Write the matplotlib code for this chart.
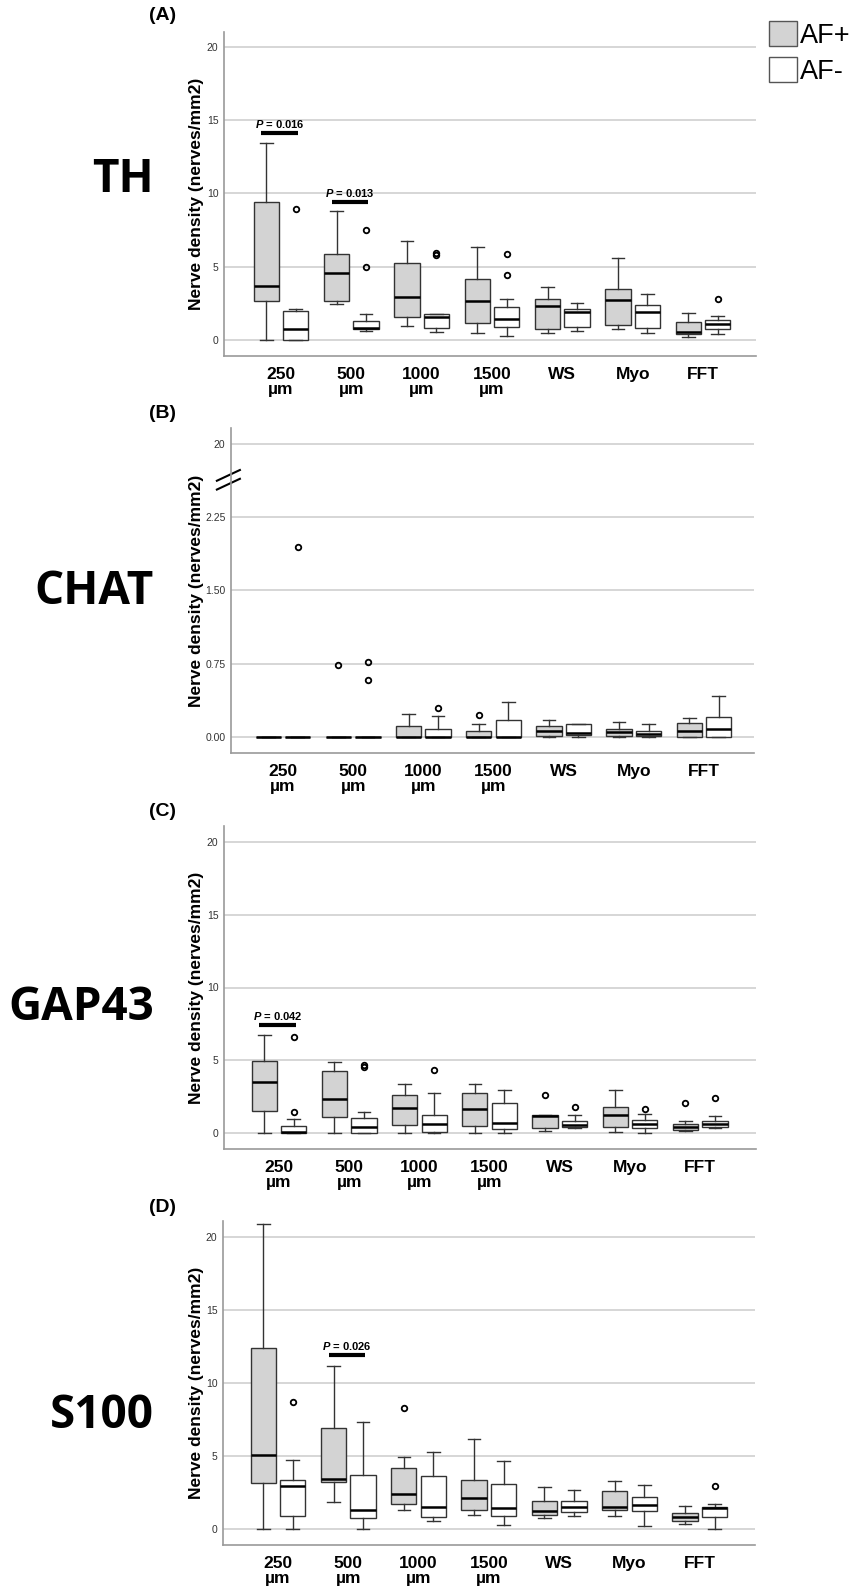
import matplotlib
matplotlib.use('Agg')
import matplotlib.pyplot as plt
from matplotlib.patches import Patch

plt.rcParams['font.family'] = 'Liberation Sans'
plt.rcParams['mathtext.fontset'] = 'custom'
plt.rcParams['mathtext.it'] = 'Liberation Sans:italic:bold'
plt.rcParams['mathtext.rm'] = 'Liberation Sans:bold'

W, H = 867, 1591

sites = ['250\nµm', '500\nµm', '1000\nµm', '1500\nµm', 'WS', 'Myo', 'FFT']
groups = ['AF+', 'AF-']

# box stats per site: whisker low, q1, median, q3, whisker high
th_afp = [[0, 2.68, 3.68, 9.41, 13.45], [2.43, 2.68, 4.59, 5.86, 8.8],
          [0.95, 1.57, 2.93, 5.23, 6.75], [0.5, 1.14, 2.66, 4.14, 6.36],
          [0.45, 0.73, 2.32, 2.80, 3.64], [0.73, 1.0, 2.73, 3.5, 5.61],
          [0.18, 0.41, 0.57, 1.25, 1.86]]
th_afp_out = [[], [], [], [], [], [], []]
th_afn = [[0, 0, 0.73, 1.95, 2.09], [0.61, 0.75, 0.80, 1.32, 1.75],
          [0.55, 0.84, 1.55, 1.75, 1.78], [0.27, 0.86, 1.41, 2.27, 2.77],
          [0.64, 0.86, 1.93, 2.14, 2.55], [0.45, 0.82, 1.93, 2.39, 3.11],
          [0.39, 0.77, 1.07, 1.34, 1.64]]
th_afn_out = [[8.93], [7.5, 5.0], [5.8, 5.95], [5.86, 4.41], [], [], [2.77]]

chat_afp = [[0, 0, 0, 0, 0], [0, 0, 0, 0, 0], [0, 0, 0, 0.116, 0.24],
            [0, 0, 0.005, 0.065, 0.133], [0, 0.014, 0.06, 0.116, 0.177],
            [0, 0.014, 0.05, 0.08, 0.153], [0, 0, 0.065, 0.146, 0.19]]
chat_afp_out = [[], [0.74], [], [0.23], [], [], []]
chat_afn = [[0, 0, 0, 0, 0], [0, 0, 0, 0, 0], [0, 0, 0.005, 0.08, 0.21],
            [0, 0, 0.005, 0.174, 0.355], [0.005, 0.017, 0.044, 0.13, 0.133],
            [0, 0.007, 0.027, 0.06, 0.133], [0, 0, 0.078, 0.208, 0.416]]
chat_afn_out = [[1.94], [0.77, 0.58], [0.30], [], [], [], []]

gap_afp = [[0, 1.54, 3.51, 4.93, 6.72], [0, 1.08, 2.36, 4.24, 4.86],
           [0, 0.57, 1.70, 2.61, 3.35], [0, 0.46, 1.67, 2.75, 3.37],
           [0.11, 0.34, 1.15, 1.22, 1.26], [0.05, 0.41, 1.24, 1.81, 2.98],
           [0.11, 0.23, 0.41, 0.64, 0.80]]
gap_afp_out = [[], [], [], [], [2.59], [], [2.06]]
gap_afn = [[0, 0, 0.05, 0.46, 0.96], [0, 0, 0.41, 1.03, 1.42],
           [0, 0.05, 0.6, 1.22, 2.75], [0, 0.28, 0.69, 2.06, 2.98],
           [0.32, 0.41, 0.57, 0.80, 1.26], [0, 0.34, 0.64, 0.92, 1.31],
           [0.37, 0.41, 0.64, 0.80, 1.19]]
gap_afn_out = [[1.44, 6.63], [4.54, 4.66], [4.31], [], [1.81], [1.67], [2.41]]

s100_afp = [[0, 3.18, 5.07, 12.39, 20.9], [1.82, 3.23, 3.41, 6.95, 11.16],
            [1.27, 1.73, 2.41, 4.16, 4.91], [0.98, 1.30, 2.14, 3.39, 6.16],
            [0.75, 0.93, 1.2, 1.95, 2.89], [0.91, 1.27, 1.48, 2.59, 3.30],
            [0.36, 0.52, 0.80, 1.11, 1.59]]
s100_afp_out = [[], [], [8.32], [], [], [], []]
s100_afn = [[0, 0.91, 2.95, 3.36, 4.75], [0, 0.77, 1.30, 3.73, 7.32],
            [0.55, 0.82, 1.48, 3.64, 5.27], [0.25, 0.89, 1.43, 3.07, 4.66],
            [0.89, 1.18, 1.48, 1.91, 2.64], [0.23, 1.2, 1.61, 2.16, 2.98],
            [0, 0.82, 1.43, 1.5, 1.73]]
s100_afn_out = [[8.68], [], [], [], [], [], [2.95]]

# significance bars: (site index, height, p value)
th_sig = [(0, 14.1, '0.016'), (1, 9.4, '0.013')]
gap_sig = [(0, 7.41, '0.042')]
s100_sig = [(1, 11.9, '0.026')]

y_ticks = [0, 5, 10, 15, 20]
chat_ticks = [0, 0.75, 1.5, 2.25, 3.0]
chat_ticklabels = ['0.00', '0.75', '1.50', '2.25', '20']

panels = [
    dict(name='TH', letter='(A)', afp=th_afp, afp_out=th_afp_out, afn=th_afn, afn_out=th_afn_out,
         sig=th_sig, box=(224, 32, 756, 356), x0=281, dx=70.33, y0=340, dy=14.67,
         ticks=y_ticks, ticklabels=[str(t) for t in y_ticks], label_y=180, letter_y=15),
    dict(name='CHAT', letter='(B)', afp=chat_afp, afp_out=chat_afp_out, afn=chat_afn, afn_out=chat_afn_out,
         sig=[], box=(231, 428, 754, 753), x0=283, dx=70.17, y0=737, dy=97.8,
         ticks=chat_ticks, ticklabels=chat_ticklabels, label_y=592, letter_y=413),
    dict(name='GAP43', letter='(C)', afp=gap_afp, afp_out=gap_afp_out, afn=gap_afn, afn_out=gap_afn_out,
         sig=gap_sig, box=(224, 826, 756, 1149), x0=279, dx=70.2, y0=1133, dy=14.55,
         ticks=y_ticks, ticklabels=[str(t) for t in y_ticks], label_y=1007, letter_y=812),
    dict(name='S100', letter='(D)', afp=s100_afp, afp_out=s100_afp_out, afn=s100_afn, afn_out=s100_afn_out,
         sig=s100_sig, box=(223, 1221, 755, 1545), x0=278, dx=70.3, y0=1529, dy=14.6,
         ticks=y_ticks, ticklabels=[str(t) for t in y_ticks], label_y=1415, letter_y=1208),
]


def make_stats(rows, outs):
    stats = []
    for r, o in zip(rows, outs):
        stats.append(dict(whislo=r[0], q1=r[1], med=r[2], q3=r[3], whishi=r[4], fliers=o))
    return stats


fig = plt.figure(figsize=(W / 100, H / 100), dpi=100)

for p in panels:
    l, t, r, b = p['box']
    ax = fig.add_axes([l / W, 1 - b / H, (r - l) / W, (b - t) / H])
    ax.set_xlim((l - p['x0']) / p['dx'], (r - p['x0']) / p['dx'])
    ax.set_ylim((p['y0'] - b) / p['dy'], (p['y0'] - t) / p['dy'])

    n = len(sites)
    for rows, outs, off, fc in [(p['afp'], p['afp_out'], -0.21, '#d3d3d3'),
                                (p['afn'], p['afn_out'], 0.21, 'white')]:
        ax.bxp(make_stats(rows, outs), positions=[i + off for i in range(n)], widths=0.36,
               patch_artist=True, manage_ticks=False,
               boxprops=dict(facecolor=fc, edgecolor='#333333', linewidth=1.0),
               medianprops=dict(color='black', linewidth=1.8),
               whiskerprops=dict(color='#333333', linewidth=1.0),
               capprops=dict(color='#333333', linewidth=1.0),
               flierprops=dict(marker='o', markerfacecolor='none', markeredgecolor='black',
                               markersize=4, markeredgewidth=1.3))

    for i, h, pv in p['sig']:
        ax.plot([i - 0.28, i + 0.24], [h, h], color='black', lw=3, solid_capstyle='butt')
        ax.annotate(r'$\it{P}$ = ' + pv, (i - 0.02, h), xytext=(0, 2.5), textcoords='offset points',
                    ha='center', va='bottom', fontsize=8, fontweight='bold')

    ax.set_xticks(range(n))
    ax.set_xticklabels(sites, fontsize=12.5, fontweight='bold', linespacing=0.95)
    ax.set_yticks(p['ticks'])
    ax.set_yticklabels(p['ticklabels'])
    ax.tick_params(axis='x', length=0, pad=8)
    ax.tick_params(axis='y', length=0, pad=4, labelsize=7.5, labelcolor='#333333')
    ax.grid(axis='y', color='#cfcfcf', lw=1.2)
    ax.set_axisbelow(True)
    for s in ['top', 'right']:
        ax.spines[s].set_visible(False)
    for s in ['left', 'bottom']:
        ax.spines[s].set_color('#9a9a9a')
        ax.spines[s].set_linewidth(1.2)

    ax.set_ylabel('Nerve density (nerves/mm2)', fontsize=12.5, fontweight='bold')
    ax.yaxis.set_label_coords((204 - l) / (r - l), 0.5)

    if p['name'] == 'CHAT':
        yt = ax.get_yaxis_transform()
        ax.plot([-0.027, 0.017], [2.53, 2.64], transform=yt, color='black', lw=1.5, clip_on=False)
        ax.plot([-0.027, 0.017], [2.62, 2.73], transform=yt, color='black', lw=1.5, clip_on=False)

    fig.text(154 / W, 1 - p['label_y'] / H, p['name'], ha='right', va='center',
             fontsize=33, fontweight='bold', family='Open Sans')
    fig.text(163 / W, 1 - p['letter_y'] / H, p['letter'], ha='center', va='center',
             fontsize=14, fontweight='bold')

fig.legend(handles=[Patch(facecolor='#d3d3d3', edgecolor='#555555', lw=1),
                    Patch(facecolor='white', edgecolor='#555555', lw=1)],
           labels=groups, loc='upper left', bbox_to_anchor=(769 / W, 1 - 21 / H),
           frameon=False, fontsize=19.5, handlelength=1.05, handleheight=1.05,
           handletextpad=0.1, labelspacing=0.3, borderpad=0, borderaxespad=0)

fig.savefig('out.png', dpi=100)
